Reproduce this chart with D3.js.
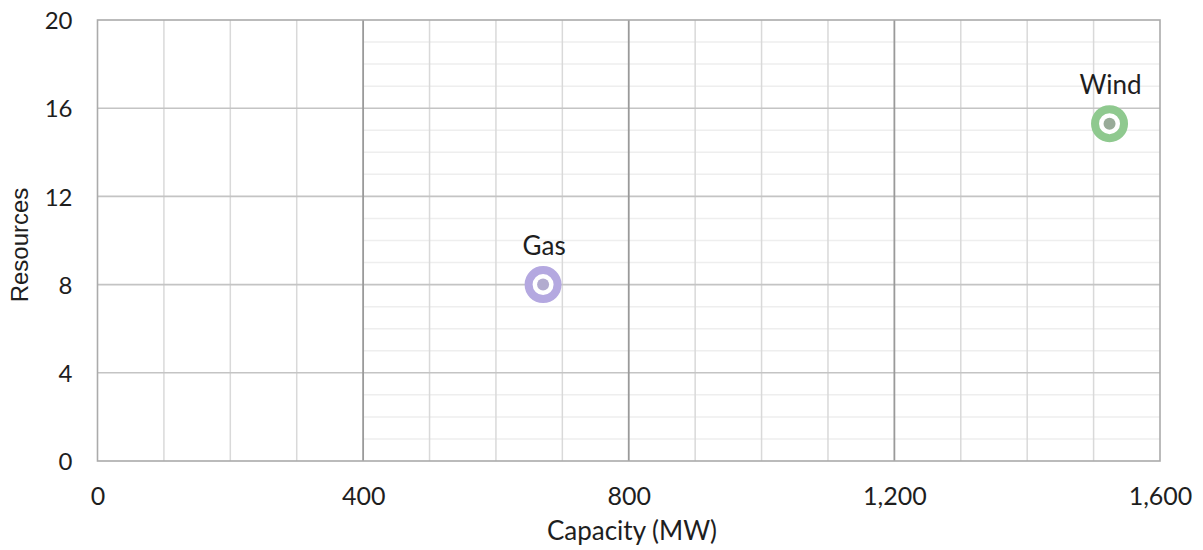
<!DOCTYPE html>
<html>
<head>
<meta charset="utf-8">
<script src="https://cdn.jsdelivr.net/npm/d3@7"></script>
<style>
  html, body { margin: 0; padding: 0; background: #fff; }
  svg { display: block; }
  .tick-x, .tick-y, .axis-title, .pt-label { fill: #1e1e1e; }
</style>
</head>
<body>
<svg id="chart" width="1203" height="550"></svg>
<script>
// Resource types plotted by installed capacity and number of resources
const categories = ["Gas", "Wind"];
const capacityMW = [671, 1524];
const resourceCount = [8, 15.3];
const ringColors = ["#b4a8e0", "#8fc98f"];
const dotColors = ["#b2abcf", "#98ab98"];

const xTicks = [0, 400, 800, 1200, 1600];
const yTicks = [0, 4, 8, 12, 16, 20];
const xMinorStep = 100;
const yMinorStep = 1;

const svg = d3.select("#chart");
const plotLeft = 97.5, plotRight = 1160, plotTop = 20, plotBottom = 461;

const x = d3.scaleLinear().domain([0, 1600]).range([plotLeft, plotRight]);
const y = d3.scaleLinear().domain([0, 20]).range([plotBottom, plotTop]);

const grid = svg.append("g");

// faint unit lines across the right-hand part of the grid
grid.selectAll("line.hminor")
  .data(d3.range(1, 20, yMinorStep).filter(v => v % 4 !== 0))
  .join("line")
  .attr("x1", x(400)).attr("x2", x(1600))
  .attr("y1", d => y(d)).attr("y2", d => y(d))
  .attr("stroke", "#eeeeee").attr("stroke-width", 1.5);

// minor verticals every 100 MW
grid.selectAll("line.vminor")
  .data(d3.range(xMinorStep, 1600, xMinorStep).filter(v => v % 400 !== 0))
  .join("line")
  .attr("x1", d => x(d)).attr("x2", d => x(d))
  .attr("y1", y(20)).attr("y2", y(0))
  .attr("stroke", "#d9d9d9").attr("stroke-width", 1.5);

// horizontal gridlines at each y tick
grid.selectAll("line.hmajor")
  .data(yTicks.filter(v => v > 0 && v < 20))
  .join("line")
  .attr("x1", x(0)).attr("x2", x(1600))
  .attr("y1", d => y(d)).attr("y2", d => y(d))
  .attr("stroke", "#c4c4c4").attr("stroke-width", 1.6);

// major verticals at each x tick
grid.selectAll("line.vmajor")
  .data(xTicks.filter(v => v > 0 && v < 1600))
  .join("line")
  .attr("x1", d => x(d)).attr("x2", d => x(d))
  .attr("y1", y(20)).attr("y2", y(0))
  .attr("stroke", "#9a9a9a").attr("stroke-width", 1.8);

// frame
grid.append("rect")
  .attr("x", x(0)).attr("y", y(20))
  .attr("width", x(1600) - x(0)).attr("height", y(0) - y(20))
  .attr("fill", "none").attr("stroke", "#ababab").attr("stroke-width", 1.6);

// axes (labels only; the grid carries the lines)
const xAxis = d3.axisBottom(x).tickValues(xTicks).tickSize(0).tickFormat(d3.format(","));
const gx = svg.append("g").attr("transform", `translate(0,${plotBottom})`).call(xAxis);
gx.select(".domain").remove();
gx.selectAll("text")
  .attr("class", "tick-x")
  .attr("y", 0).attr("dy", 0)
  .attr("transform", "translate(0,44)")
  .style("font-family", "Lato, 'Open Sans', sans-serif")
  .style("font-size", "25px")
  .attr("fill", "#1e1e1e");

const yAxis = d3.axisLeft(y).tickValues(yTicks).tickSize(0);
const gy = svg.append("g").attr("transform", `translate(${plotLeft},0)`).call(yAxis);
gy.select(".domain").remove();
gy.selectAll("text")
  .attr("class", "tick-y")
  .attr("x", -25).attr("dy", "0.36em")
  .style("font-family", "Lato, 'Open Sans', sans-serif")
  .style("font-size", "24px")
  .attr("fill", "#1e1e1e");

// axis titles
svg.append("text")
  .attr("class", "axis-title")
  .attr("x", 632).attr("y", 540)
  .attr("text-anchor", "middle")
  .style("font-family", "Lato, 'Open Sans', sans-serif")
  .style("font-size", "26px")
  .text("Capacity (MW)");

svg.append("text")
  .attr("class", "axis-title")
  .attr("transform", "translate(28,245) rotate(-90)")
  .attr("text-anchor", "middle")
  .style("font-family", "'Liberation Sans', Arial, sans-serif")
  .style("font-size", "24px")
  .text("Resources");

// points: coloured ring with a small centre dot
const pts = svg.append("g").selectAll("g")
  .data(categories.map((c, i) => ({ name: c, cap: capacityMW[i], n: resourceCount[i], ring: ringColors[i], dot: dotColors[i] })))
  .join("g")
  .attr("transform", d => `translate(${x(d.cap)},${y(d.n)})`);

pts.append("circle")
  .attr("r", 14.5)
  .attr("fill", "#fff")
  .attr("stroke", d => d.ring)
  .attr("stroke-width", 8);

pts.append("circle")
  .attr("r", 6)
  .attr("fill", d => d.dot);

pts.append("text")
  .attr("class", "pt-label")
  .attr("x", 1).attr("y", -30)
  .attr("text-anchor", "middle")
  .style("font-family", "Lato, 'Open Sans', sans-serif")
  .style("font-size", "26px")
  .text(d => d.name);
</script>
</body>
</html>
